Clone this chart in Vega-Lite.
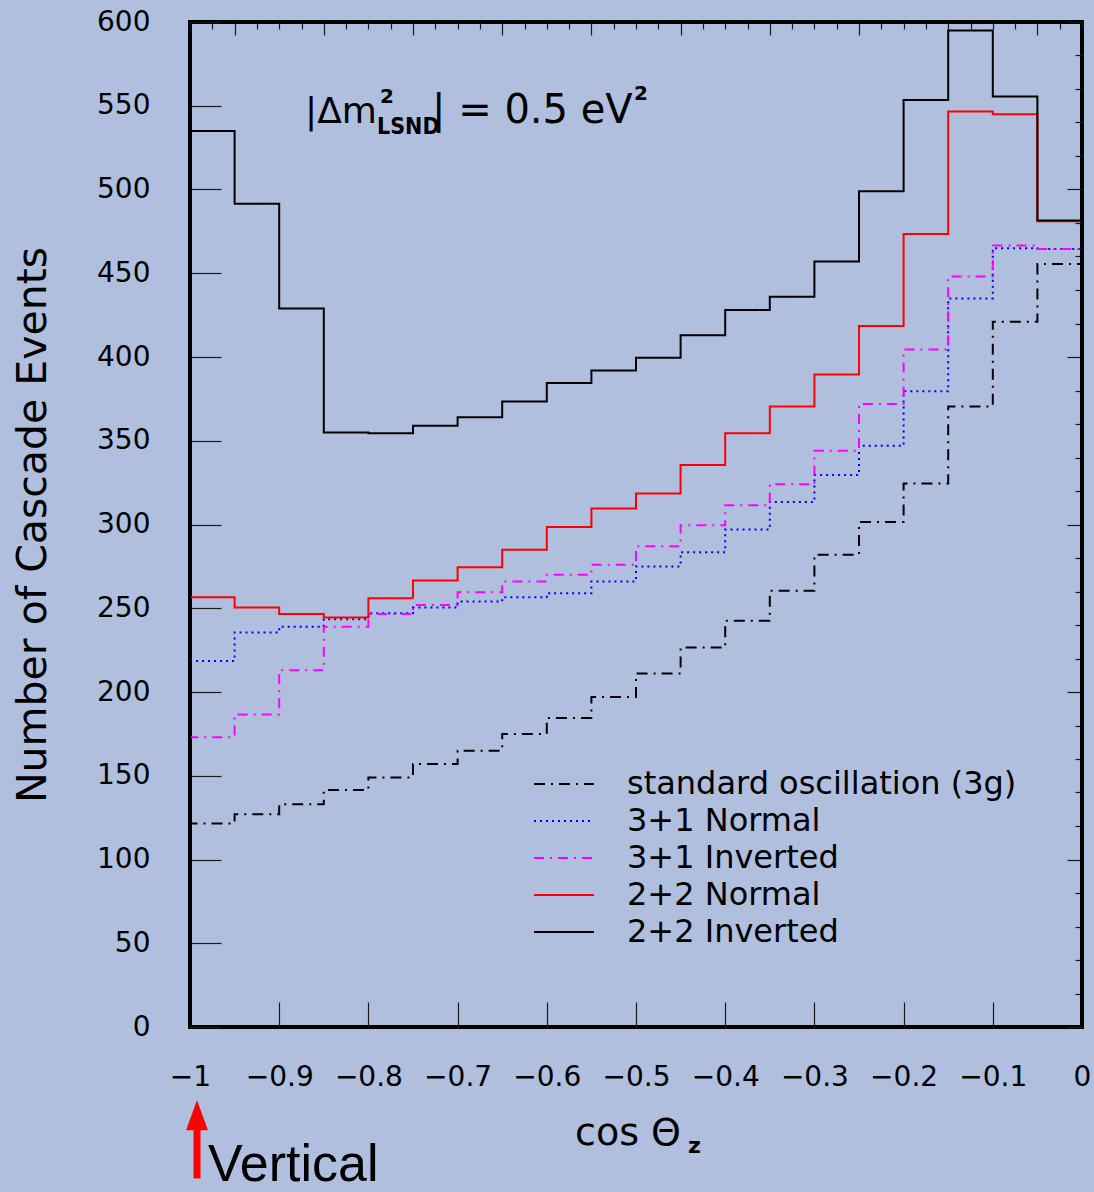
{
  "$schema": "https://vega.github.io/schema/vega-lite/v6.json",
  "width": 892,
  "height": 1005,
  "autosize": {"type": "none"},
  "padding": {"left": 190, "top": 22, "right": 12, "bottom": 165},
  "background": "#b0bfdd",
  "config": {
    "view": {"stroke": "#000000", "strokeWidth": 4},
    "font": "DejaVu Sans",
    "axis": {"grid": false, "domain": false, "tickColor": "#1a1a1a", "tickWidth": 1.2, "labelColor": "#000000", "labelFont": "DejaVu Sans", "labelFlush": false, "labelOverlap": false}
  },
  "datasets": {
    "h": [
      {"i": 0, "x": -1, "standard oscillation (3g)": 0, "3+1 Normal": 0, "3+1 Inverted": 0, "2+2 Normal": 0, "2+2 Inverted": 0},
      {"i": 1, "x": -1, "standard oscillation (3g)": 121.5, "3+1 Normal": 218.5, "3+1 Inverted": 173, "2+2 Normal": 256.5, "2+2 Inverted": 535},
      {"i": 2, "x": -0.95, "standard oscillation (3g)": 127, "3+1 Normal": 235.5, "3+1 Inverted": 186.5, "2+2 Normal": 250.5, "2+2 Inverted": 491.5},
      {"i": 3, "x": -0.9, "standard oscillation (3g)": 133, "3+1 Normal": 239, "3+1 Inverted": 213, "2+2 Normal": 246.5, "2+2 Inverted": 429},
      {"i": 4, "x": -0.85, "standard oscillation (3g)": 141.5, "3+1 Normal": 243.5, "3+1 Inverted": 239, "2+2 Normal": 244.5, "2+2 Inverted": 355},
      {"i": 5, "x": -0.8, "standard oscillation (3g)": 149, "3+1 Normal": 247, "3+1 Inverted": 246.5, "2+2 Normal": 256, "2+2 Inverted": 354.5},
      {"i": 6, "x": -0.75, "standard oscillation (3g)": 157, "3+1 Normal": 250.5, "3+1 Inverted": 252, "2+2 Normal": 266.5, "2+2 Inverted": 359},
      {"i": 7, "x": -0.7, "standard oscillation (3g)": 165, "3+1 Normal": 254, "3+1 Inverted": 259.5, "2+2 Normal": 274.5, "2+2 Inverted": 364},
      {"i": 8, "x": -0.65, "standard oscillation (3g)": 175, "3+1 Normal": 256.5, "3+1 Inverted": 266, "2+2 Normal": 285, "2+2 Inverted": 373.5},
      {"i": 9, "x": -0.6, "standard oscillation (3g)": 184.5, "3+1 Normal": 259, "3+1 Inverted": 270, "2+2 Normal": 298.5, "2+2 Inverted": 384.5},
      {"i": 10, "x": -0.55, "standard oscillation (3g)": 197, "3+1 Normal": 266, "3+1 Inverted": 276, "2+2 Normal": 309.5, "2+2 Inverted": 392},
      {"i": 11, "x": -0.5, "standard oscillation (3g)": 211, "3+1 Normal": 275, "3+1 Inverted": 287, "2+2 Normal": 318.5, "2+2 Inverted": 399.5},
      {"i": 12, "x": -0.45, "standard oscillation (3g)": 226.5, "3+1 Normal": 283.5, "3+1 Inverted": 299.5, "2+2 Normal": 335.5, "2+2 Inverted": 413},
      {"i": 13, "x": -0.4, "standard oscillation (3g)": 242.5, "3+1 Normal": 297, "3+1 Inverted": 311.5, "2+2 Normal": 354.5, "2+2 Inverted": 428},
      {"i": 14, "x": -0.35, "standard oscillation (3g)": 260.5, "3+1 Normal": 313.5, "3+1 Inverted": 324, "2+2 Normal": 370.5, "2+2 Inverted": 436},
      {"i": 15, "x": -0.3, "standard oscillation (3g)": 282, "3+1 Normal": 329.5, "3+1 Inverted": 344, "2+2 Normal": 389.5, "2+2 Inverted": 457},
      {"i": 16, "x": -0.25, "standard oscillation (3g)": 301.5, "3+1 Normal": 347, "3+1 Inverted": 372, "2+2 Normal": 418.5, "2+2 Inverted": 499},
      {"i": 17, "x": -0.2, "standard oscillation (3g)": 324.5, "3+1 Normal": 379.5, "3+1 Inverted": 404.5, "2+2 Normal": 473.5, "2+2 Inverted": 553.5},
      {"i": 18, "x": -0.15, "standard oscillation (3g)": 370.5, "3+1 Normal": 435, "3+1 Inverted": 448, "2+2 Normal": 546.5, "2+2 Inverted": 595},
      {"i": 19, "x": -0.1, "standard oscillation (3g)": 421, "3+1 Normal": 465, "3+1 Inverted": 466.5, "2+2 Normal": 545, "2+2 Inverted": 555.5},
      {"i": 20, "x": -0.05, "standard oscillation (3g)": 455.5, "3+1 Normal": 464.5, "3+1 Inverted": 464.5, "2+2 Normal": 481, "2+2 Inverted": 481.5},
      {"i": 21, "x": 0, "standard oscillation (3g)": 455.5, "3+1 Normal": 464.5, "3+1 Inverted": 464.5, "2+2 Normal": 481, "2+2 Inverted": 481.5},
      {"i": 22, "x": 0, "standard oscillation (3g)": 0, "3+1 Normal": 0, "3+1 Inverted": 0, "2+2 Normal": 0, "2+2 Inverted": 0}
    ]
  },
  "layer": [
    {
      "layer": [
        {
          "data": {"name": "h"},
          "transform": [{"fold": ["standard oscillation (3g)", "3+1 Normal", "3+1 Inverted", "2+2 Normal", "2+2 Inverted"], "as": ["s", "v"]}],
          "mark": {"type": "line", "interpolate": "step-after", "strokeWidth": 2},
          "encoding": {
            "x": {"field": "x", "type": "quantitative", "scale": {"domain": [-1, 0], "nice": false, "zero": false},
              "axis": {"orient": "bottom", "values": [-1, -0.9, -0.8, -0.7, -0.6, -0.5, -0.4, -0.3, -0.2, -0.1, 0], "format": ".1~f", "tickSize": -25, "labelFontSize": 28, "labelPadding": 61, "title": null}},
            "y": {"field": "v", "type": "quantitative", "scale": {"domain": [0, 600], "nice": false},
              "axis": {"orient": "left", "values": [0, 50, 100, 150, 200, 250, 300, 350, 400, 450, 500, 550, 600], "tickSize": -31, "labelFontSize": 28, "labelPadding": 71, "title": "Number of Cascade Events", "titleFontSize": 41, "titleFontWeight": "normal", "titleFont": "DejaVu Sans", "titleColor": "#000000", "titleX": -145, "titleBaseline": "alphabetic"}},
            "color": {"field": "s", "type": "nominal",
              "scale": {"domain": ["standard oscillation (3g)", "3+1 Normal", "3+1 Inverted", "2+2 Normal", "2+2 Inverted"], "range": ["#000000", "#0000ff", "#ff00ff", "#ff0000", "#000000"]},
              "legend": {"orient": "none", "legendX": 358, "legendY": 746, "title": null, "symbolType": "M-2,0H2", "symbolSize": 900, "symbolStrokeWidth": 2, "labelFontSize": 32, "labelFont": "DejaVu Sans", "labelColor": "#000000", "labelOffset": 47, "rowPadding": 5, "padding": 0, "labelLimit": 0}},
            "strokeDash": {"field": "s", "type": "nominal",
              "scale": {"domain": ["standard oscillation (3g)", "3+1 Normal", "3+1 Inverted", "2+2 Normal", "2+2 Inverted"], "range": [[11, 6, 2, 6], [2, 4], [10, 6, 2, 6], [1, 0], [1, 0]]},
              "legend": {"orient": "none", "legendX": 358, "legendY": 746, "title": null, "symbolType": "M-2,0H2", "symbolSize": 900, "symbolStrokeWidth": 2, "labelFontSize": 32, "labelFont": "DejaVu Sans", "labelColor": "#000000", "labelOffset": 47, "rowPadding": 5, "padding": 0, "labelLimit": 0}},
            "order": {"field": "i", "type": "quantitative"}
          }
        },
        {
          "data": {"values": [{"t": "|Δm", "x": -0.87108, "y": 539.7}]},
          "mark": {"type": "text", "align": "left", "baseline": "alphabetic", "font": "DejaVu Sans", "fontSize": 36, "color": "#000000"},
          "encoding": {"x": {"field": "x", "type": "quantitative"}, "y": {"field": "y", "type": "quantitative"}, "text": {"field": "t"}}
        },
        {
          "data": {"values": [{"t": "2", "x": -0.787, "y": 551.8}]},
          "mark": {"type": "text", "align": "left", "baseline": "alphabetic", "font": "DejaVu Sans", "fontSize": 20, "fontWeight": "bold", "color": "#000000"},
          "encoding": {"x": {"field": "x", "type": "quantitative"}, "y": {"field": "y", "type": "quantitative"}, "text": {"field": "t"}}
        },
        {
          "data": {"values": [{"t": "LSND", "x": -0.79036, "y": 533.1}]},
          "mark": {"type": "text", "align": "left", "baseline": "alphabetic", "font": "Liberation Sans Narrow, DejaVu Sans Condensed, DejaVu Sans", "fontSize": 23, "fontWeight": "bold", "color": "#000000"},
          "encoding": {"x": {"field": "x", "type": "quantitative"}, "y": {"field": "y", "type": "quantitative"}, "text": {"field": "t"}}
        },
        {
          "data": {"values": [{"t": "| = 0.5 eV", "x": -0.7287, "y": 539.7}]},
          "mark": {"type": "text", "align": "left", "baseline": "alphabetic", "font": "DejaVu Sans", "fontSize": 40, "color": "#000000"},
          "encoding": {"x": {"field": "x", "type": "quantitative"}, "y": {"field": "y", "type": "quantitative"}, "text": {"field": "t"}}
        },
        {
          "data": {"values": [{"t": "2", "x": -0.5022, "y": 553.6}]},
          "mark": {"type": "text", "align": "left", "baseline": "alphabetic", "font": "DejaVu Sans", "fontSize": 20, "fontWeight": "bold", "color": "#000000"},
          "encoding": {"x": {"field": "x", "type": "quantitative"}, "y": {"field": "y", "type": "quantitative"}, "text": {"field": "t"}}
        },
        {
          "data": {"values": [{"t": "cos Θ", "x": -0.56839, "y": -70.7}]},
          "mark": {"type": "text", "align": "left", "baseline": "alphabetic", "font": "DejaVu Sans", "fontSize": 38, "color": "#000000"},
          "encoding": {"x": {"field": "x", "type": "quantitative"}, "y": {"field": "y", "type": "quantitative"}, "text": {"field": "t"}}
        },
        {
          "data": {"values": [{"t": "z", "x": -0.4417, "y": -75.4}]},
          "mark": {"type": "text", "align": "left", "baseline": "alphabetic", "font": "DejaVu Sans", "fontSize": 22, "fontWeight": "bold", "color": "#000000"},
          "encoding": {"x": {"field": "x", "type": "quantitative"}, "y": {"field": "y", "type": "quantitative"}, "text": {"field": "t"}}
        },
        {
          "data": {"values": [{"t": "Vertical", "x": -0.97982, "y": -92.2}]},
          "mark": {"type": "text", "align": "left", "baseline": "alphabetic", "font": "Liberation Sans", "fontSize": 52, "color": "#000000"},
          "encoding": {"x": {"field": "x", "type": "quantitative"}, "y": {"field": "y", "type": "quantitative"}, "text": {"field": "t"}}
        },
        {
          "data": {"values": [{"x": -0.99215, "y": -90.4, "y2": -58}]},
          "mark": {"type": "rule", "color": "#ff0000", "strokeWidth": 7, "strokeCap": "butt"},
          "encoding": {"x": {"field": "x", "type": "quantitative"}, "y": {"field": "y", "type": "quantitative"}, "y2": {"field": "y2"}}
        },
        {
          "data": {"values": [{"x": -0.99215, "y": -52.7}]},
          "mark": {"type": "point", "shape": "M0,-1L-0.73,1L0.73,1Z", "size": 900, "filled": true, "color": "#ff0000", "opacity": 1},
          "encoding": {"x": {"field": "x", "type": "quantitative"}, "y": {"field": "y", "type": "quantitative"}}
        }
      ]
    },
    {
      "data": {"values": [{"x": -1, "y": 0}]},
      "mark": {"type": "point", "opacity": 0},
      "encoding": {
        "x": {"field": "x", "type": "quantitative", "scale": {"domain": [-1, 0], "nice": false, "zero": false},
          "axis": {"orient": "top", "labels": false, "title": null,
            "values": [-1, -0.975, -0.95, -0.925, -0.9, -0.875, -0.85, -0.825, -0.8, -0.775, -0.75, -0.725, -0.7, -0.675, -0.65, -0.625, -0.6, -0.575, -0.55, -0.525, -0.5, -0.475, -0.45, -0.425, -0.4, -0.375, -0.35, -0.325, -0.3, -0.275, -0.25, -0.225, -0.2, -0.175, -0.15, -0.125, -0.1, -0.075, -0.05, -0.025, 0],
            "tickSize": {"condition": {"test": "indexof([-0.95,-0.85,-0.75,-0.65,-0.55,-0.45,-0.35,-0.25,-0.15,-0.05], datum.value) >= 0", "value": -13}, "value": -7}}},
        "y": {"field": "y", "type": "quantitative", "scale": {"domain": [0, 600], "nice": false},
          "axis": {"orient": "right", "labels": false, "title": null,
            "values": [0, 20, 40, 60, 80, 100, 120, 140, 160, 180, 200, 220, 240, 260, 280, 300, 320, 340, 360, 380, 400, 420, 440, 460, 480, 500, 520, 540, 560, 580, 600],
            "tickSize": {"condition": {"test": "datum.value % 100 === 0", "value": -15}, "value": -7}}}
      }
    }
  ],
  "resolve": {"scale": {"x": "independent", "y": "independent"}}
}
